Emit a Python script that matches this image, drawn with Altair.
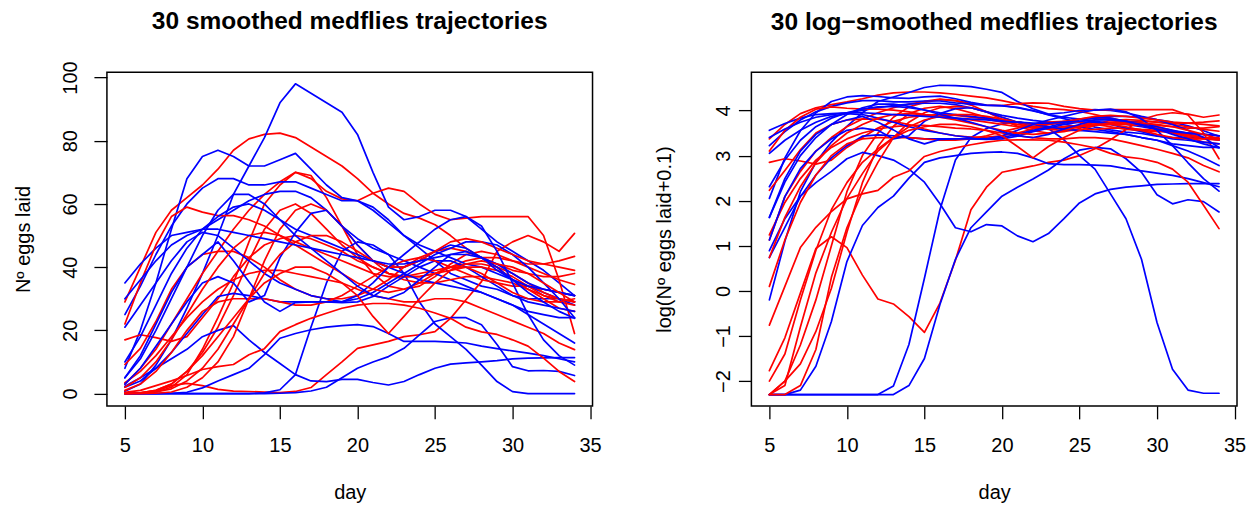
import altair as alt
import pandas as pd

FONT = "Liberation Sans"

days = [5, 6, 7, 8, 9, 10, 11, 12, 13, 14, 15, 16, 17, 18, 19, 20,
        21, 22, 23, 24, 25, 26, 27, 28, 29, 30, 31, 32, 33, 34]

x_ticks = [5, 10, 15, 20, 25, 30, 35]
y_ticks_raw = [0, 20, 40, 60, 80, 100]
y_ticks_log = [-2, -1, 0, 1, 2, 3, 4]

# ---- smoothed number of eggs (left panel) ----
R1_eggs = [29, 40, 51, 58, 62, 66, 71, 77, 80.6, 82, 82.4, 81, 78, 75, 72, 68, 63.4, 60, 57, 55.5, 53.4, 50, 46, 43, 41, 39, 38, 37, 37, 38]
R2_eggs = [3, 8, 14, 22, 30, 38, 45, 52, 58, 63, 67, 70, 68, 64, 61.6, 61, 63.4, 65, 64, 60, 56.7, 55, 55.5, 56, 56, 56, 56, 50, 36, 19]
R3_eggs = [0, 0, 0.5, 2, 6, 14, 24, 35, 48, 60, 66, 70, 69, 62, 53, 44, 38, 34, 33, 34, 37, 41, 44, 45, 44, 42, 40, 38, 36, 34.5]
R4_eggs = [0, 0.2, 1, 3, 7, 13, 21, 31, 42, 52, 58, 60, 57, 52, 47, 43, 40, 38, 37, 37, 38, 40, 42, 43, 43, 42, 41, 41, 42, 43.4]
R5_eggs = [0.07, 0.25, 0.85, 2.5, 3.2, 2.5, 1.3, 0.74, 0.65, 0.47, 0.3, 0.66, 1.9, 6, 10, 14.3, 15.4, 16.5, 18, 18.6, 19.6, 23.8, 29.7, 35.4, 45, 48, 50, 48, 45, 50.7]
R6_eggs = [17, 18.6, 17.7, 16.5, 18, 24, 30, 37, 43, 47, 49, 50, 49, 47, 45, 42, 40, 38, 37, 37, 38, 39, 40, 40, 39, 37, 34, 31, 29, 28]
R7_eggs = [22, 35, 47, 56, 59, 57.4, 56.3, 56.3, 55, 53, 50, 48, 46, 44, 42, 40, 38, 37, 37, 38, 39, 40, 41, 41, 40, 38, 35, 32, 30, 29]
R8_eggs = [9.2, 14.3, 22.8, 33, 40, 44, 45, 45, 43, 40, 36, 33, 31, 30, 30, 31, 33, 36, 40, 43, 45, 46, 45, 43, 40, 36, 33, 30, 27, 26]
R9_eggs = [0, 0, 0.1, 0.5, 2, 5, 10, 18, 30, 42, 52, 58, 60, 58, 53, 47, 42, 38, 36, 35, 35, 36, 37, 37, 36, 35, 33, 31, 30, 29]
R10_eggs = [3.4, 7, 12, 18, 24, 29, 33, 36, 38, 39, 39, 38, 37, 36, 35, 33, 31, 30, 29, 29, 30, 30, 29, 27, 25, 23, 21, 19, 16, 13.9]
R11_eggs = [0.4, 1, 2.5, 4, 5.7, 7.6, 8.5, 9.2, 12.3, 14.2, 19.6, 21.8, 23.8, 25.4, 27, 28, 28.5, 28.5, 28, 27, 25.5, 23.8, 21, 19.5, 18.7, 17, 15, 11.2, 7, 3.8]
R12_eggs = [1, 3, 7, 13, 20, 26, 29, 30, 30, 30, 29, 28, 28, 29, 31, 34, 37, 40, 42, 43, 42, 40, 38, 36, 35, 34, 34, 33, 32, 31]
R13_eggs = [0, 0.1, 0.5, 1.5, 4, 8, 14, 22, 30, 38, 44, 48, 50, 50, 48, 45, 42, 40, 40, 42, 45, 48, 49, 48, 46, 44, 42, 41, 40, 39]
R14_eggs = [2, 5, 10, 17, 25, 33, 40, 46, 50, 51, 50, 47, 44, 41, 38, 35, 33, 32, 33, 35, 38, 40, 40, 38, 35, 32, 30, 29, 29, 30]
R15_eggs = [0.03, 0.2, 1, 3, 7, 12, 18, 24, 30, 35, 38, 40, 40, 38, 35, 31, 24.4, 19, 24.4, 30, 35, 39, 41, 42, 41, 40, 38, 35, 32, 29]

B1_eggs = [0.7, 3, 9, 17, 27, 38, 50, 63, 72, 81, 92, 98, 95, 92, 89, 82, 70, 59, 55, 56, 58, 58, 56, 52, 48, 45, 42, 39, 35, 31]
B2_eggs = [8, 20, 35, 52, 68, 75, 77, 75, 72, 72, 74, 76, 71, 66, 62, 61, 59, 55, 50, 46, 42, 38, 36, 34, 33, 31, 30, 30, 30, 29]
B3_eggs = [35, 41, 46, 50, 51, 52, 55, 58, 61, 63, 64, 64, 62, 58, 53, 49, 46, 44, 42, 40, 38, 36, 34, 32, 30, 28, 26, 25, 24, 24]
B4_eggs = [25, 34, 44, 53, 60, 65, 68, 68, 66, 66, 67, 67, 65, 63, 61, 61, 58, 54, 50, 47, 45, 43, 41, 40, 38, 36, 34, 32, 30, 28]
B5_eggs = [0, 0, 0, 0, 0, 0, 0, 0, 0, 0.2, 1.2, 6, 21, 35, 45, 48, 47, 44, 38, 29, 22, 18, 14, 9, 3.8, 0.6, 0, 0, 0, 0]
B6_eggs = [0, 0, 0, 0, 0, 0, 0, 0, 0, 0, 0.1, 0.3, 0.8, 2, 5, 8, 10, 11.7, 14.3, 18.6, 22.8, 24, 24, 21.8, 15.5, 8.5, 7.2, 7.3, 7, 5.7]
B7_eggs = [2.3, 5, 8, 11, 14, 18, 20, 21.5, 17, 13, 9.5, 6, 4, 3.8, 4.5, 4.5, 3.5, 2.7, 3.8, 6, 8, 9.3, 9.7, 10, 10.4, 11, 11.2, 11.3, 11.4, 11.4]
B8_eggs = [0, 0, 0, 0.1, 0.4, 1.8, 4, 6, 8, 12.3, 17.5, 19, 20.2, 21, 21.5, 21.8, 21.2, 19, 16.5, 16.5, 16.5, 16.3, 16, 15, 14.2, 13.5, 12.8, 12, 11, 10]
B9_eggs = [10, 18, 28, 38, 46, 52, 56, 59, 60, 58, 55, 52, 50, 48, 46, 44, 42, 40, 38, 36, 35, 34, 33, 32, 30, 28, 25, 22, 19, 16]
B10_eggs = [21, 28, 35, 42, 48, 51, 50, 46, 42, 38, 35, 33, 31, 30, 29, 30, 32, 35, 38, 41, 44, 46, 48, 48, 47, 44, 40, 35, 30, 24]
B11_eggs = [2, 4, 8, 13, 19, 25, 30.7, 31.7, 31, 30, 29, 29, 29, 29, 28.8, 29, 30.7, 34, 37, 40, 42, 42, 40, 37, 34, 31, 29, 28, 27, 26]
B12_eggs = [3, 8, 15, 22, 29, 35, 37, 35, 29, 31, 43, 51, 57, 58, 53, 47, 42, 40, 40, 42, 45, 47, 46, 43, 39, 36, 34, 33, 32, 31]
B13_eggs = [5, 12, 22, 32, 40, 44, 48, 42, 35.4, 29, 26, 28.8, 29, 29, 29, 31, 35, 40, 44, 48, 52, 55, 56, 53, 45, 35, 25, 17, 12, 9]
B14_eggs = [30, 36, 42, 47, 50, 52, 52, 51, 50, 49, 48, 47, 46, 45, 44, 43, 42, 41, 41, 42, 43, 44, 44, 43, 41, 38, 35, 33, 32, 31]
B15_eggs = [5, 11, 20, 30, 40, 50, 58, 63, 63, 60, 55, 50, 46, 42, 38, 34, 31, 30, 32, 36, 40, 44, 45, 43, 40, 36, 32, 29, 26, 23.8]

# ---- log-smoothed trajectories (right panel) ----
R1_log = [3.37, 3.69, 3.93, 4.06, 4.13, 4.19, 4.26, 4.34, 4.39, 4.41, 4.41, 4.39, 4.36, 4.32, 4.28, 4.22, 4.15, 4.09, 4.04, 4.02, 3.98, 3.91, 3.83, 3.76, 3.72, 3.67, 3.64, 3.61, 3.61, 3.64]
R2_log = [1.13, 2.09, 2.65, 3.1, 3.4, 3.64, 3.81, 3.95, 4.06, 4.14, 4.2, 4.25, 4.22, 4.16, 4.12, 4.11, 4.15, 4.17, 4.16, 4.09, 4.04, 4.01, 4.02, 4.02, 4.02, 4.02, 4.02, 3.9, 3.5, 2.93]
R3_log = [-2.3, -2.0, -1.2, -0.2, 1.0, 2.2, 3.0, 3.5, 3.85, 4.08, 4.18, 4.24, 4.22, 4.12, 3.97, 3.8, 3.65, 3.55, 3.5, 3.53, 3.6, 3.7, 3.78, 3.8, 3.78, 3.74, 3.69, 3.64, 3.58, 3.54]
R4_log = [-2.3, -2.0, -1.62, -0.9, 0.06, 1.3, 2.4, 3.2, 3.65, 3.93, 4.05, 4.09, 4.04, 3.95, 3.85, 3.76, 3.69, 3.64, 3.61, 3.61, 3.64, 3.69, 3.74, 3.76, 3.76, 3.74, 3.72, 3.72, 3.74, 3.77]
R5_log = [-1.77, -1.04, -0.05, 0.94, 1.2, 0.96, 0.35, -0.18, -0.29, -0.57, -0.92, -0.27, 0.68, 1.8, 2.3, 2.63, 2.7, 2.77, 2.85, 2.9, 3.0, 3.15, 3.35, 3.58, 3.8, 3.9, 3.95, 3.92, 3.85, 3.9]
R6_log = [2.85, 2.93, 2.88, 2.81, 2.9, 3.18, 3.4, 3.61, 3.76, 3.85, 3.89, 3.91, 3.89, 3.85, 3.81, 3.74, 3.69, 3.64, 3.61, 3.61, 3.64, 3.67, 3.69, 3.69, 3.67, 3.61, 3.53, 3.44, 3.37, 3.34]
R7_log = [3.1, 3.56, 3.85, 4.03, 4.08, 4.05, 4.03, 4.03, 4.01, 3.97, 3.91, 3.87, 3.83, 3.79, 3.74, 3.69, 3.64, 3.61, 3.61, 3.64, 3.67, 3.69, 3.72, 3.72, 3.69, 3.64, 3.56, 3.47, 3.4, 3.37]
R8_log = [2.23, 2.67, 3.13, 3.5, 3.69, 3.79, 3.81, 3.81, 3.76, 3.69, 3.59, 3.5, 3.44, 3.41, 3.41, 3.44, 3.5, 3.59, 3.69, 3.76, 3.81, 3.83, 3.81, 3.76, 3.69, 3.59, 3.5, 3.41, 3.3, 3.26]
R9_log = [-2.3, -2.3, -2.1, -1.3, 0.3, 1.4, 2.2, 2.85, 3.4, 3.74, 3.95, 4.06, 4.09, 4.06, 3.97, 3.85, 3.74, 3.64, 3.58, 3.56, 3.56, 3.58, 3.61, 3.61, 3.58, 3.56, 3.5, 3.44, 3.4, 3.37]
R10_log = [1.24, 1.96, 2.49, 2.9, 3.18, 3.37, 3.5, 3.59, 3.64, 3.67, 3.67, 3.64, 3.61, 3.59, 3.56, 3.5, 3.44, 3.4, 3.37, 3.37, 3.4, 3.4, 3.37, 3.3, 3.22, 3.14, 3.05, 2.95, 2.78, 2.64]
R11_log = [-0.76, 0.1, 0.96, 1.41, 1.76, 2.04, 2.15, 2.23, 2.52, 2.66, 2.98, 3.09, 3.17, 3.24, 3.3, 3.34, 3.35, 3.35, 3.34, 3.3, 3.24, 3.17, 3.05, 2.97, 2.93, 2.85, 2.7, 2.41, 1.9, 1.38]
R12_log = [0.1, 1.13, 1.96, 2.57, 3.0, 3.26, 3.37, 3.4, 3.4, 3.4, 3.37, 3.34, 3.34, 3.37, 3.44, 3.53, 3.61, 3.69, 3.74, 3.76, 3.74, 3.69, 3.64, 3.58, 3.56, 3.53, 3.53, 3.5, 3.47, 3.44]
R13_log = [-2.3, -2.1, -0.8, 0.4, 1.3, 2.05, 2.6, 3.1, 3.4, 3.64, 3.79, 3.87, 3.91, 3.91, 3.87, 3.81, 3.74, 3.69, 3.69, 3.74, 3.81, 3.87, 3.89, 3.87, 3.83, 3.79, 3.74, 3.72, 3.69, 3.66]
R14_log = [0.74, 1.63, 2.31, 2.84, 3.22, 3.5, 3.69, 3.83, 3.91, 3.93, 3.91, 3.85, 3.79, 3.72, 3.64, 3.56, 3.5, 3.47, 3.5, 3.56, 3.64, 3.69, 3.69, 3.64, 3.56, 3.47, 3.4, 3.37, 3.37, 3.4]
R15_log = [-2.0, -1.4, -0.2, 0.9, 1.8, 2.4, 2.85, 3.15, 3.4, 3.56, 3.64, 3.69, 3.69, 3.64, 3.56, 3.44, 3.2, 2.95, 3.2, 3.4, 3.56, 3.67, 3.72, 3.74, 3.72, 3.69, 3.64, 3.56, 3.47, 3.37]

B1_log = [-0.2, 1.1, 2.2, 2.85, 3.3, 3.65, 3.95, 4.2, 4.3, 4.4, 4.51, 4.56, 4.55, 4.53, 4.47, 4.4, 4.2, 4.04, 3.92, 3.95, 4.0, 4.02, 4.0, 3.95, 3.87, 3.8, 3.74, 3.66, 3.55, 3.43]
B2_log = [2.05, 2.95, 3.55, 3.95, 4.2, 4.3, 4.33, 4.31, 4.28, 4.27, 4.3, 4.32, 4.26, 4.18, 4.12, 4.1, 4.07, 4.0, 3.9, 3.82, 3.73, 3.63, 3.57, 3.52, 3.49, 3.43, 3.4, 3.4, 3.4, 3.37]
B3_log = [3.56, 3.71, 3.83, 3.91, 3.93, 3.95, 4.0, 4.06, 4.11, 4.14, 4.16, 4.16, 4.13, 4.06, 3.97, 3.89, 3.83, 3.78, 3.74, 3.69, 3.64, 3.58, 3.53, 3.47, 3.4, 3.34, 3.26, 3.22, 3.18, 3.18]
B4_log = [3.22, 3.53, 3.79, 3.97, 4.09, 4.17, 4.22, 4.22, 4.19, 4.19, 4.21, 4.21, 4.17, 4.14, 4.11, 4.11, 4.06, 3.99, 3.91, 3.85, 3.81, 3.76, 3.72, 3.69, 3.64, 3.58, 3.53, 3.47, 3.4, 3.34]
B5_log = [-2.3, -2.3, -2.3, -2.3, -2.3, -2.3, -2.3, -2.3, -2.11, -1.19, 0.28, 1.8, 2.9, 3.4, 3.6, 3.7, 3.75, 3.7, 3.6, 3.35, 3.0, 2.7, 2.15, 1.6, 0.7, -0.7, -1.74, -2.2, -2.27, -2.27]
B6_log = [-2.3, -2.3, -2.3, -2.3, -2.3, -2.3, -2.3, -2.3, -2.3, -2.1, -1.5, -0.3, 0.7, 1.4, 1.75, 2.1, 2.3, 2.48, 2.68, 2.93, 3.12, 3.18, 3.15, 2.93, 2.63, 2.13, 1.93, 2.02, 1.98, 1.75]
B7_log = [0.89, 1.6, 2.1, 2.4, 2.65, 2.93, 3.07, 3.0, 2.9, 2.7, 2.41, 1.93, 1.4, 1.31, 1.47, 1.44, 1.22, 1.09, 1.27, 1.6, 1.95, 2.15, 2.25, 2.3, 2.33, 2.36, 2.37, 2.38, 2.38, 2.38]
B8_log = [-2.3, -2.3, -2.2, -1.67, -0.68, 0.65, 1.45, 1.85, 2.1, 2.5, 2.85, 2.95, 3.0, 3.05, 3.07, 3.08, 3.05, 2.95, 2.82, 2.8, 2.8, 2.79, 2.77, 2.71, 2.66, 2.61, 2.56, 2.49, 2.4, 2.31]
B9_log = [2.31, 2.9, 3.34, 3.64, 3.83, 3.95, 4.03, 4.08, 4.09, 4.06, 4.01, 3.95, 3.91, 3.87, 3.83, 3.78, 3.74, 3.69, 3.64, 3.58, 3.56, 3.53, 3.5, 3.47, 3.4, 3.34, 3.22, 3.1, 2.95, 2.78]
B10_log = [3.05, 3.34, 3.56, 3.74, 3.87, 3.93, 3.91, 3.83, 3.74, 3.64, 3.56, 3.5, 3.44, 3.4, 3.37, 3.4, 3.47, 3.56, 3.64, 3.72, 3.79, 3.83, 3.87, 3.87, 3.85, 3.79, 3.69, 3.56, 3.4, 3.18]
B11_log = [0.74, 1.41, 2.09, 2.57, 2.95, 3.22, 3.43, 3.46, 3.44, 3.4, 3.37, 3.37, 3.37, 3.37, 3.36, 3.37, 3.43, 3.53, 3.61, 3.69, 3.74, 3.74, 3.69, 3.61, 3.53, 3.44, 3.37, 3.34, 3.3, 3.26]
B12_log = [1.13, 2.09, 2.71, 3.1, 3.37, 3.56, 3.61, 3.56, 3.37, 3.44, 3.76, 3.93, 4.04, 4.06, 3.97, 3.85, 3.74, 3.69, 3.69, 3.74, 3.81, 3.85, 3.83, 3.76, 3.67, 3.58, 3.53, 3.5, 3.47, 3.44]
B13_log = [1.63, 2.49, 3.1, 3.47, 3.69, 3.79, 3.87, 3.74, 3.57, 3.37, 3.26, 3.36, 3.37, 3.37, 3.37, 3.44, 3.56, 3.69, 3.79, 3.87, 3.95, 4.01, 4.03, 3.97, 3.81, 3.56, 3.22, 2.84, 2.49, 2.21]
B14_log = [3.4, 3.59, 3.74, 3.85, 3.91, 3.95, 3.95, 3.93, 3.91, 3.89, 3.87, 3.85, 3.83, 3.81, 3.79, 3.76, 3.74, 3.72, 3.72, 3.74, 3.76, 3.79, 3.79, 3.76, 3.72, 3.64, 3.56, 3.5, 3.47, 3.44]
B15_log = [1.63, 2.41, 3.0, 3.4, 3.69, 3.91, 4.06, 4.14, 4.14, 4.09, 4.01, 3.91, 3.83, 3.74, 3.64, 3.53, 3.44, 3.4, 3.47, 3.59, 3.69, 3.79, 3.81, 3.76, 3.69, 3.59, 3.47, 3.37, 3.26, 3.17]

flies = [
    ("R1", "red", R1_eggs, R1_log), ("B1", "blue", B1_eggs, B1_log),
    ("R2", "red", R2_eggs, R2_log), ("B2", "blue", B2_eggs, B2_log),
    ("R3", "red", R3_eggs, R3_log), ("B3", "blue", B3_eggs, B3_log),
    ("R4", "red", R4_eggs, R4_log), ("B4", "blue", B4_eggs, B4_log),
    ("R5", "red", R5_eggs, R5_log), ("B5", "blue", B5_eggs, B5_log),
    ("R6", "red", R6_eggs, R6_log), ("B6", "blue", B6_eggs, B6_log),
    ("R7", "red", R7_eggs, R7_log), ("B7", "blue", B7_eggs, B7_log),
    ("R8", "red", R8_eggs, R8_log), ("B8", "blue", B8_eggs, B8_log),
    ("R9", "red", R9_eggs, R9_log), ("B9", "blue", B9_eggs, B9_log),
    ("R10", "red", R10_eggs, R10_log), ("B10", "blue", B10_eggs, B10_log),
    ("R11", "red", R11_eggs, R11_log), ("B11", "blue", B11_eggs, B11_log),
    ("R12", "red", R12_eggs, R12_log), ("B12", "blue", B12_eggs, B12_log),
    ("R13", "red", R13_eggs, R13_log), ("B13", "blue", B13_eggs, B13_log),
    ("R14", "red", R14_eggs, R14_log), ("B14", "blue", B14_eggs, B14_log),
    ("R15", "red", R15_eggs, R15_log), ("B15", "blue", B15_eggs, B15_log),
]

rows = []
for i, (name, colour, eggs, logs) in enumerate(flies):
    assert len(eggs) == len(days), name
    assert len(logs) == len(days), name
    for d, e, l in zip(days, eggs, logs):
        rows.append({"fly": f"{i:02d}_{name}", "colour": colour,
                     "day": d, "eggs": e, "logeggs": l})
df = pd.DataFrame(rows)

W, H = 486, 334
X_DOMAIN = [3.84, 35.16]


def x_axis():
    return alt.Axis(
        values=x_ticks, title="day", grid=False, domain=False,
        tickSize=13, tickColor="black", tickWidth=1.3,
        labelFont=FONT, labelFontSize=20, labelColor="black",
        labelPadding=17, labelBaseline="top", labelFlush=False, labelOverlap=False,
        titleFont=FONT, titleFontSize=20, titleFontWeight="normal", titleColor="black",
        titleBaseline="alphabetic", titleY=93,
    )


def y_axis(values, title, label_pad, title_x):
    return alt.Axis(
        values=values, title=title, grid=False, domain=False,
        tickSize=13, tickColor="black", tickWidth=1.3,
        labelFont=FONT, labelFontSize=20, labelColor="black",
        labelAngle=270, labelAlign="center", labelBaseline="alphabetic",
        labelPadding=label_pad, labelFlush=False, labelOverlap=False,
        titleFont=FONT, titleFontSize=20, titleFontWeight="normal", titleColor="black",
        titleAngle=270, titleBaseline="alphabetic", titleX=title_x,
    )


def panel(field, ydomain, yvals, ytitle, title, label_pad, title_x, title_offset):
    return alt.Chart(
        df,
        title=alt.TitleParams(title, font=FONT, fontSize=24.5, fontWeight="bold",
                              color="black", anchor="middle", frame="group",
                              offset=title_offset),
    ).mark_line(strokeWidth=1.7, strokeJoin="round", strokeCap="round").encode(
        x=alt.X("day:Q", scale=alt.Scale(domain=X_DOMAIN, nice=False, zero=False), axis=x_axis()),
        y=alt.Y(f"{field}:Q", scale=alt.Scale(domain=ydomain, nice=False, zero=False),
                axis=y_axis(yvals, ytitle, label_pad, title_x)),
        color=alt.Color("colour:N", scale=None),
        detail="fly:N",
    ).properties(width=W, height=H)


left = panel("eggs", [-3.9, 101.7], y_ticks_raw, "N\u00ba eggs laid",
             "30 smoothed medflies trajectories", 17.7, -77, 26)
right = panel("logeggs", [-2.55, 4.85], y_ticks_log, "log(N\u00ba eggs laid+0.1)",
              "30 log\u2212smoothed medflies trajectories", 8.7, -81, 37)

chart = alt.hconcat(left, right, spacing=51).properties(
    padding={"left": 5, "top": 0, "right": 0, "bottom": 0},
    background="white",
).configure_view(stroke="black", strokeWidth=1.5)

chart.save("out.html", embed_options={"renderer": "svg", "actions": False})
